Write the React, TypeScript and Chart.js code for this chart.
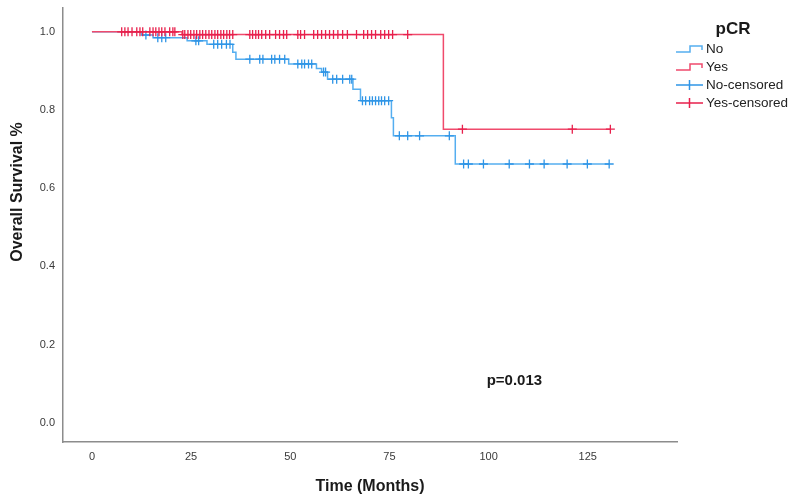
import React, { useEffect, useRef } from "react";
import { Chart, registerables } from "chart.js";

Chart.register(...registerables);

const FONT = '"Liberation Sans", Arial, Helvetica, sans-serif';

// Kaplan–Meier curve, pCR = No: event times (months) and survival after each event
const noEventTimes = [12.5, 15.4, 24.0, 29.0, 35.5, 36.3, 49.6, 56.6, 57.9, 59.4, 65.8, 67.7, 75.5, 76.0, 91.6];
const noSurvival = [0.992, 0.985, 0.977, 0.968, 0.948, 0.93, 0.918, 0.906, 0.897, 0.879, 0.853, 0.824, 0.78, 0.734, 0.662];
// censored follow-up times, pCR = No
const noCensored = [
  13.6, 16.6, 17.6, 18.6, 26.2, 26.9, 30.7, 31.7, 32.7, 33.9, 34.8, 39.8, 42.3, 43.1, 45.3, 46.1,
  47.3, 48.6, 51.9, 52.9, 53.6, 54.6, 55.4, 58.4, 58.9, 60.7, 61.7, 63.2, 65.0, 65.5, 68.2, 69.0,
  70.0, 70.7, 71.5, 72.3, 73.0, 73.8, 74.8, 77.5, 79.6, 82.6, 90.1, 93.7, 94.9, 98.7, 105.2, 110.3,
  114.0, 119.8, 124.9, 130.4,
];

// Kaplan–Meier curve, pCR = Yes
const yesEventTimes = [22.7, 88.6];
const yesSurvival = [0.993, 0.751];
const yesCensored = [
  7.5, 8.3, 9.1, 10.1, 11.3, 12.1, 12.8, 14.6, 15.4, 16.1, 16.9, 17.6, 18.4, 19.6, 20.4, 20.9,
  22.9, 23.4, 24.2, 24.9, 25.7, 26.4, 27.2, 27.9, 28.7, 29.5, 30.2, 31.0, 31.7, 32.5, 33.2, 34.0,
  34.7, 35.5, 39.8, 40.5, 41.3, 42.0, 42.8, 43.8, 44.8, 46.3, 47.3, 48.3, 49.1, 51.9, 52.6, 53.6,
  55.9, 56.9, 57.9, 58.9, 59.9, 60.9, 62.0, 63.2, 64.4, 66.7, 68.5, 69.5, 70.5, 71.5, 72.8, 73.8,
  74.8, 75.8, 79.6, 93.4, 121.1, 130.7,
];

const xTickValues = [0, 25, 50, 75, 100, 125];
const yTickValues = [0, 0.2, 0.4, 0.6, 0.8, 1.0];
const xTitle = "Time (Months)";
const yTitle = "Overall Survival %";
const pValueText = "p=0.013";
const pValueAt = { x: 106.5, y: 0.107 };
const legendTitle = "pCR";
const legendLabels = ["No", "Yes", "No-censored", "Yes-censored"];

const BLUE_LINE = "#55aef0";
const BLUE_MARK = "#2f95e6";
const RED_LINE = "#f04a6c";
const RED_MARK = "#e8204c";

function survivalAt(times: number[], surv: number[], t: number): number {
  let s = 1;
  for (let i = 0; i < times.length; i++) if (times[i] <= t) s = surv[i];
  return s;
}

function stepPoints(times: number[], surv: number[], censored: number[]) {
  const end = Math.max(...censored, ...times);
  const pts = [{ x: 0, y: 1 }];
  times.forEach((t, i) => pts.push({ x: t, y: surv[i] }));
  pts.push({ x: end, y: survivalAt(times, surv, end) });
  return pts;
}

function censorPoints(times: number[], surv: number[], censored: number[]) {
  return censored.map((t) => ({ x: t, y: survivalAt(times, surv, t) }));
}

const annotations = {
  id: "kmAnnotations",
  afterDraw(chart: any) {
    const { ctx, chartArea, scales } = chart;
    ctx.save();
    ctx.fillStyle = "#1a1a1a";

    // axis titles
    ctx.font = `bold 16px ${FONT}`;
    ctx.textAlign = "center";
    ctx.textBaseline = "middle";
    ctx.fillText(xTitle, (chartArea.left + chartArea.right) / 2, 487);
    ctx.save();
    ctx.translate(18, 192);
    ctx.rotate(-Math.PI / 2);
    ctx.fillText(yTitle, 0, 0);
    ctx.restore();

    // log-rank p value
    ctx.font = `bold 15px ${FONT}`;
    ctx.fillText(pValueText, scales.x.getPixelForValue(pValueAt.x), scales.y.getPixelForValue(pValueAt.y));

    // legend
    ctx.font = `bold 17px ${FONT}`;
    ctx.fillText(legendTitle, 733, 29);
    ctx.font = `13.5px ${FONT}`;
    ctx.textAlign = "left";
    const rows = [49, 67, 85, 103];
    const colors = [BLUE_LINE, RED_LINE, BLUE_MARK, RED_MARK];
    legendLabels.forEach((label, i) => {
      const y = rows[i];
      ctx.strokeStyle = colors[i];
      ctx.lineWidth = 1.5;
      ctx.beginPath();
      if (i < 2) {
        ctx.moveTo(676, y + 3);
        ctx.lineTo(690, y + 3);
        ctx.lineTo(690, y - 3);
        ctx.lineTo(702, y - 3);
        ctx.lineTo(702, y + 1);
      } else {
        ctx.moveTo(676, y);
        ctx.lineTo(703, y);
        ctx.moveTo(689.5, y - 5);
        ctx.lineTo(689.5, y + 5);
      }
      ctx.stroke();
      ctx.fillStyle = "#222";
      ctx.fillText(label, 706, y);
    });
    ctx.restore();
  },
};

export default function App() {
  const canvasRef = useRef<HTMLCanvasElement | null>(null);

  useEffect(() => {
    if (!canvasRef.current) return;
    const chart = new Chart(canvasRef.current, {
      type: "line",
      data: {
        datasets: [
          {
            type: "scatter",
            label: "Yes-censored",
            data: censorPoints(yesEventTimes, yesSurvival, yesCensored),
            pointStyle: "cross",
            pointRadius: 4.5,
            pointBorderWidth: 1.3,
            borderColor: RED_MARK,
            backgroundColor: RED_MARK,
            order: 0,
          },
          {
            type: "line",
            label: "Yes",
            data: stepPoints(yesEventTimes, yesSurvival, yesCensored),
            stepped: "before",
            borderColor: RED_LINE,
            borderWidth: 1.5,
            pointRadius: 0,
            fill: false,
            order: 1,
          },
          {
            type: "scatter",
            label: "No-censored",
            data: censorPoints(noEventTimes, noSurvival, noCensored),
            pointStyle: "cross",
            pointRadius: 4.5,
            pointBorderWidth: 1.3,
            borderColor: BLUE_MARK,
            backgroundColor: BLUE_MARK,
            order: 2,
          },
          {
            type: "line",
            label: "No",
            data: stepPoints(noEventTimes, noSurvival, noCensored),
            stepped: "before",
            borderColor: BLUE_LINE,
            borderWidth: 1.5,
            pointRadius: 0,
            fill: false,
            order: 3,
          },
        ] as any,
      },
      options: {
        animation: false,
        responsive: false,
        devicePixelRatio: 1,
        layout: { autoPadding: false, padding: { left: 0, right: 119, top: 8, bottom: 0 } },
        plugins: { legend: { display: false }, tooltip: { enabled: false } },
        scales: {
          x: {
            type: "linear",
            min: -7.3,
            max: 147.5,
            afterFit: (s: any) => {
              s.height = 62;
              s.paddingLeft = 0;
              s.paddingRight = 0;
            },
            afterBuildTicks: (s: any) => {
              s.ticks = xTickValues.map((v) => ({ value: v }));
            },
            grid: { display: false, drawTicks: false },
            border: { display: true, color: "#8c8c8c", width: 1.5 },
            ticks: {
              padding: 8,
              color: "#3a3a3a",
              font: { family: FONT, size: 11 },
              callback: (v: any) => String(v),
            },
          },
          y: {
            type: "linear",
            min: -0.049,
            max: 1.061,
            afterFit: (s: any) => {
              s.width = 63;
              s.paddingTop = 0;
              s.paddingBottom = 0;
            },
            afterBuildTicks: (s: any) => {
              s.ticks = yTickValues.map((v) => ({ value: v }));
            },
            grid: { display: false, drawTicks: false },
            border: { display: true, color: "#8c8c8c", width: 1.5 },
            ticks: {
              padding: 8,
              color: "#3a3a3a",
              font: { family: FONT, size: 11 },
              callback: (v: any) => Number(v).toFixed(1),
            },
          },
        },
      },
      plugins: [annotations],
    });
    return () => chart.destroy();
  }, []);

  return (
    <div style={{ position: "fixed", left: 0, top: 0, width: 796, height: 504, background: "#fff" }}>
      <canvas ref={canvasRef} width={796} height={504} style={{ width: 796, height: 504 }} />
    </div>
  );
}
